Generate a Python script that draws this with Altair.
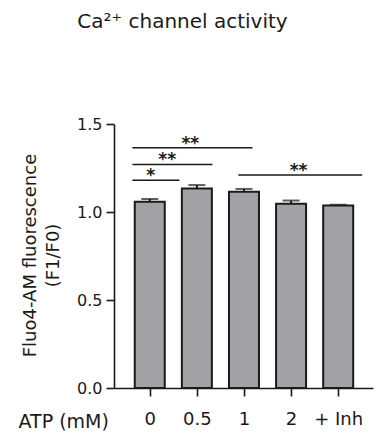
import json
import altair as alt
import pandas as pd

# ---- data ----
categories = ["0", "0.5", "1", "2", "+ Inh"]
positions = [0, 1, 2, 3, 4]
means = [1.058, 1.133, 1.115, 1.047, 1.037]
sems = [0.016, 0.02, 0.016, 0.018, 0.004]

# significance brackets (x in group-index units, y in data units)
br_x1 = [-0.37, -0.37, -0.37, 1.88]
br_x2 = [0.63, 1.33, 2.18, 4.51]
br_y = [1.18, 1.27, 1.365, 1.21]
br_label = ["*", "**", "**", "**"]
br_text_x = [0.02, 0.37, 0.86, 3.16]

bars = pd.DataFrame({"pos": positions, "cat": categories, "mean": means, "sem": sems})
bars["top"] = bars["mean"] + bars["sem"]
brackets = pd.DataFrame({"x1": br_x1, "x2": br_x2, "y": br_y, "label": br_label, "tx": br_text_x})

FONT = "DejaVu Sans"
INK = "#1a1a1a"
label_expr = json.dumps(categories) + "[datum.value]"

x_scale = alt.Scale(domain=[-0.653, 4.633], nice=False, zero=False)
y_scale = alt.Scale(domain=[0, 1.5], nice=False)

x_axis = alt.Axis(
    values=positions, labelExpr=label_expr, title="ATP (mM)", grid=False,
    domainColor=INK, domainWidth=1.6, tickColor=INK, tickWidth=1.6, tickSize=8,
    labelFont=FONT, labelFontSize=18, labelColor=INK, labelPadding=14,
    titleFont=FONT, titleFontSize=19, titleFontWeight="normal", titleColor=INK,
    titleX=-96, titleY=39, titleAlign="left", titleBaseline="alphabetic", titleAnchor="start",
)
y_axis = alt.Axis(
    values=[0, 0.5, 1.0, 1.5], format=".1f", grid=False,
    title=["Fluo4-AM fluorescence", "(F1/F0)"],
    domainColor=INK, domainWidth=1.6, tickColor=INK, tickWidth=1.6, tickSize=8,
    labelFont=FONT, labelFontSize=16, labelColor=INK, labelPadding=4,
    titleFont=FONT, titleFontSize=18, titleFontWeight="normal", titleColor=INK,
    titleX=-84, titleY=131, titleAngle=-90, titleAlign="center", titleBaseline="middle",
    titleLineHeight=23,
)

base = alt.Chart(bars)

bar_layer = base.mark_bar(size=30, orient="vertical", fill="#a2a1a6", stroke=INK, strokeWidth=2).encode(
    x=alt.X("pos:Q", scale=x_scale, axis=x_axis),
    y=alt.Y("mean:Q", scale=y_scale, axis=y_axis),
)
err_layer = base.mark_rule(color=INK, strokeWidth=2).encode(
    x="pos:Q", y="mean:Q", y2="top:Q"
)
cap_layer = base.mark_tick(orient="horizontal", size=17, thickness=2, color=INK).encode(
    x="pos:Q", y="top:Q"
)

bch = alt.Chart(brackets)
line_layer = bch.mark_rule(color=INK, strokeWidth=1.6).encode(
    x="x1:Q", x2="x2:Q", y="y:Q"
)
star_layer = bch.mark_text(font=FONT, fontSize=17, fontWeight="bold", color=INK, baseline="alphabetic", align="center", dy=1).encode(
    x="tx:Q", y="y:Q", text="label:N"
)

chart = alt.layer(bar_layer, err_layer, cap_layer, line_layer, star_layer).properties(
    width=259, height=264,
    autosize=alt.AutoSizeParams(type="none"),
    padding={"left": 106, "top": 116, "right": 4, "bottom": 48},
    title=alt.TitleParams(
        "Ca²⁺ channel activity", font=FONT, fontSize=20, fontWeight="normal", color=INK,
        anchor="middle", dx=-61, offset=84,
    ),
).configure_view(stroke=None)

chart.save("out.html", embed_options={"renderer": "svg", "actions": False})
